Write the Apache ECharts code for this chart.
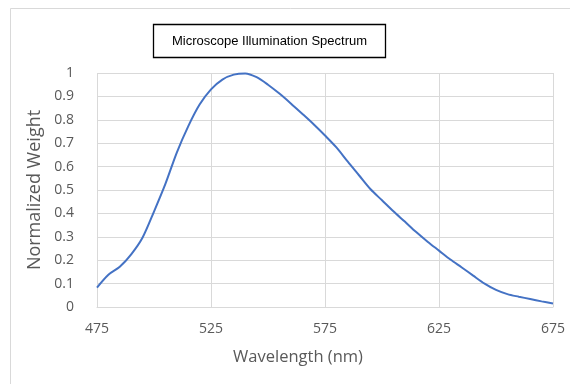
<!DOCTYPE html>
<html>
<head>
<meta charset="utf-8">
<style>
html,body{margin:0;padding:0;background:#fff;}
#chart{width:570px;height:384px;}
</style>
<script src="https://cdn.jsdelivr.net/npm/echarts@6/dist/echarts.min.js"></script>
</head>
<body>
<div id="chart"></div>
<script>
var chartTitle = 'Microscope Illumination Spectrum';
var xAxisTitle = 'Wavelength (nm)';
var yAxisTitle = 'Normalized Weight';
var wavelengths = [475,480,485,490,495,500,505,510,515,520,525,530,535,540,545,550,555,560,565,570,575,580,585,590,595,600,605,610,615,620,625,630,635,640,645,650,655,660,665,670,675];
var weights = [0.083,0.138,0.172,0.225,0.297,0.408,0.526,0.66,0.772,0.865,0.93,0.972,0.993,0.998,0.982,0.95,0.912,0.87,0.826,0.781,0.733,0.682,0.621,0.562,0.503,0.456,0.409,0.365,0.32,0.279,0.241,0.203,0.169,0.134,0.1,0.073,0.055,0.044,0.034,0.024,0.015];

var data = wavelengths.map(function (w, i) { return [w, weights[i]]; });
var chart = echarts.init(document.getElementById('chart'));
var labelFont = '"Open Sans", "Noto Sans", sans-serif';
chart.setOption({
  animation: false,
  backgroundColor: '#fff',
  title: {
    text: chartTitle,
    left: 153,
    top: 24,
    padding: [10, 19, 9, 19],
    borderColor: '#000',
    borderWidth: 1.3,
    textStyle: { fontFamily: 'Liberation Sans, Arial, sans-serif', fontSize: 13, fontWeight: 'normal', color: '#000', lineHeight: 15 }
  },
  graphic: [{
    type: 'rect', silent: true, z: -1,
    shape: { x: 10.5, y: 8.5, width: 620, height: 420 },
    style: { fill: 'none', stroke: '#d9d9d9', lineWidth: 1 }
  }],
  grid: { left: 97, right: 17, top: 73, bottom: 77, outerBoundsMode: 'none', containLabel: false },
  xAxis: {
    type: 'value', min: 475, max: 675, interval: 50,
    name: xAxisTitle, nameLocation: 'middle', nameGap: 42,
    nameTextStyle: { fontFamily: labelFont, fontSize: 16.5, color: '#595959', padding: [0, 54, 0, 0] },
    axisLine: { show: true, lineStyle: { color: '#d9d9d9', width: 1 } },
    axisTick: { show: false },
    splitLine: { show: true, lineStyle: { color: '#d9d9d9', width: 1 } },
    axisLabel: { margin: 15, fontFamily: labelFont, fontSize: 14, color: '#595959' }
  },
  yAxis: {
    type: 'value', min: 0, max: 1, interval: 0.1,
    name: yAxisTitle, nameLocation: 'middle', nameGap: 35,
    nameTextStyle: { fontFamily: labelFont, fontSize: 18, color: '#595959' },
    axisLine: { show: false },
    axisTick: { show: false },
    splitLine: { show: true, lineStyle: { color: '#d9d9d9', width: 1 } },
    axisLabel: { margin: 23, fontFamily: labelFont, fontSize: 14, color: '#595959' }
  },
  series: [{
    type: 'line', data: data, smooth: 0.3, showSymbol: false,
    lineStyle: { color: '#4472C4', width: 2 }
  }]
});
</script>
</body>
</html>
